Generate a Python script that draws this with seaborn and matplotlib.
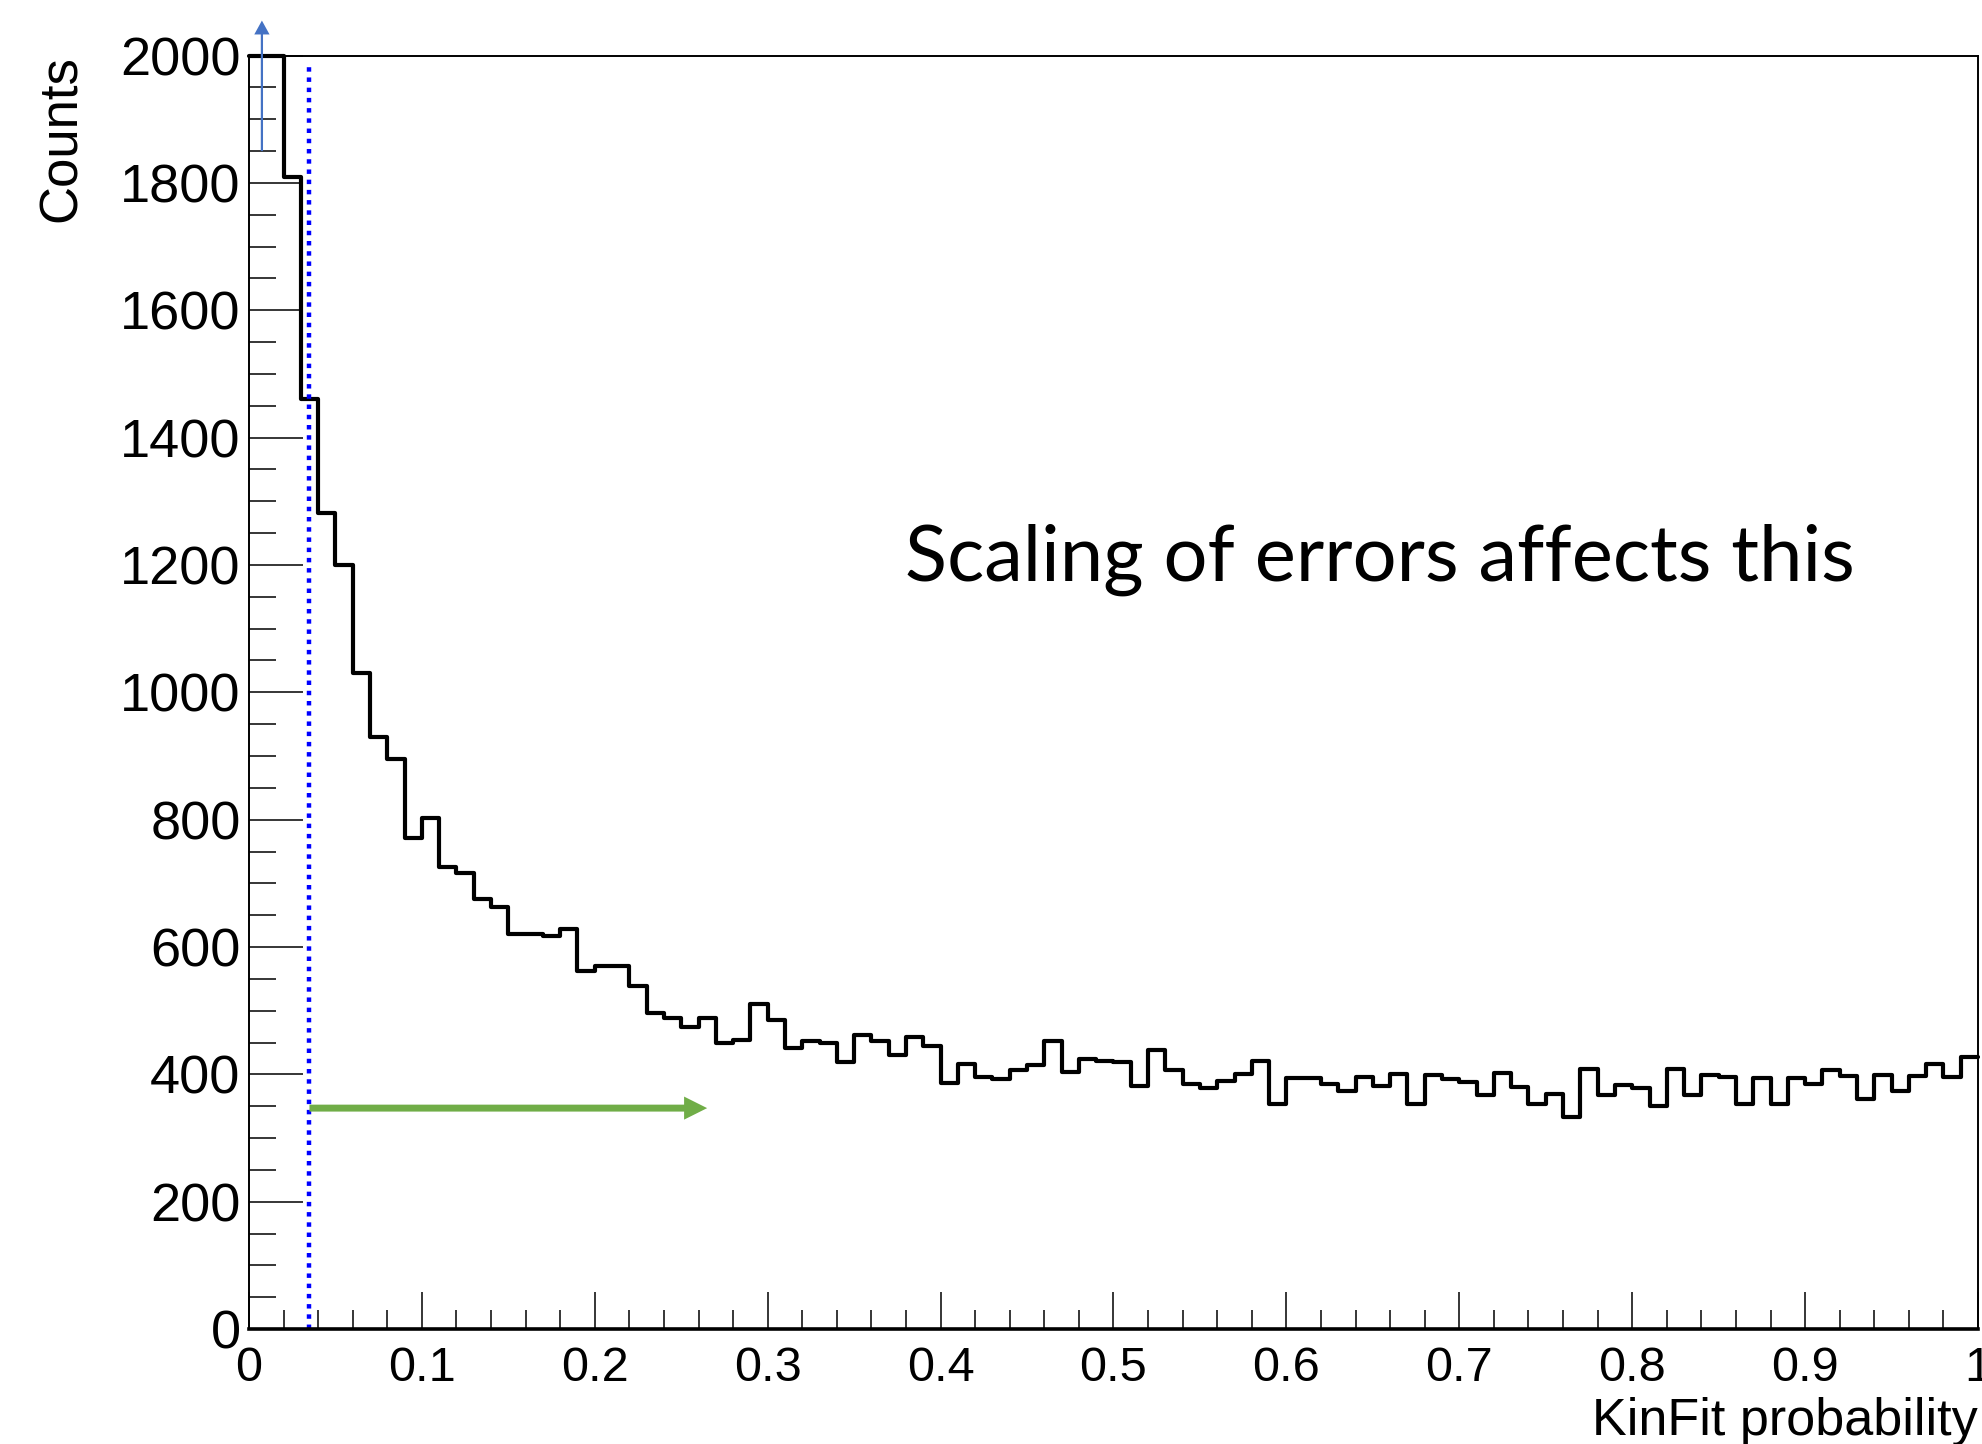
import numpy as np
import pandas as pd
import matplotlib
matplotlib.use("Agg")
import matplotlib.pyplot as plt
from matplotlib.ticker import MultipleLocator
import seaborn as sns

# ---------------- data ----------------
bin_edges = [round(i * 0.01, 2) for i in range(101)]
counts = [2900, 2150, 1810, 1460, 1281, 1200, 1030, 930, 896, 772,
          803, 726, 716, 676, 663, 621, 621, 618, 629, 562,
          570, 570, 539, 496, 489, 475, 489, 449, 454, 510,
          486, 441, 452, 449, 420, 462, 452, 431, 459, 444,
          387, 416, 396, 392, 407, 414, 452, 404, 424, 421,
          420, 382, 438, 407, 385, 378, 390, 400, 421, 353,
          394, 394, 385, 374, 396, 382, 400, 353, 399, 392,
          388, 367, 402, 380, 353, 369, 333, 408, 368, 384,
          378, 351, 408, 368, 399, 396, 354, 394, 353, 394,
          385, 407, 397, 361, 399, 374, 397, 416, 396, 428]
y_max = 2000
y_ticks = [0, 200, 400, 600, 800, 1000, 1200, 1400, 1600, 1800, 2000]
y_tick_labels = ["0", "200", "400", "600", "800", "1000", "1200", "1400", "1600", "1800", "2000"]
x_ticks = [0, 0.1, 0.2, 0.3, 0.4, 0.5, 0.6, 0.7, 0.8, 0.9, 1.0]
x_tick_labels = ["0", "0.1", "0.2", "0.3", "0.4", "0.5", "0.6", "0.7", "0.8", "0.9", "1"]
x_label = "KinFit probability"
y_label = "Counts"
note_text = "Scaling of errors affects this"
note_pos = (0.3794, 1175)
cut_x = 0.035
cut_top = 1985
green_arrow_y = 347
green_arrow_end = 0.265
blue_arrow_x = 0.0075
blue_arrow_from = 1850
blue_arrow_to = 2055

edges_arr = np.array(bin_edges)
centers = 0.5 * (edges_arr[:-1] + edges_arr[1:])
df = pd.DataFrame({"prob": centers, "counts": counts})
# ROOT draws off-scale bins at the frame top
df["shown"] = np.minimum(df["counts"], y_max)

# ---------------- style ----------------
sns.set_theme(style="ticks")
plt.rcParams["font.family"] = ["Liberation Sans", "DejaVu Sans"]

fig = plt.figure(figsize=(19.82, 14.44), dpi=100)
ax = fig.add_axes([0.1256, 0.0796, 0.9980 - 0.1256, 0.9615 - 0.0796])

sns.histplot(data=df, x="prob", weights="shown", bins=bin_edges,
             element="step", fill=False, color="black", linewidth=3.0, ax=ax)
for ln in ax.lines:
    ln.set_clip_on(False)

ax.set_xlim(0, 1)
ax.set_ylim(0, y_max)

# cut line
ax.vlines(cut_x, 0, cut_top, colors="#0000FF", linestyles=[(0, (1.0, 1.3))], linewidth=3.2)

# green arrow
ax.annotate("", xy=(green_arrow_end, green_arrow_y), xytext=(cut_x, green_arrow_y),
            arrowprops=dict(arrowstyle="simple,head_length=0.83,head_width=0.83,tail_width=0.25",
                            mutation_scale=20, fc="#70AD47", ec="none", lw=0,
                            shrinkA=0, shrinkB=0))
# blue arrow (off-scale indicator)
ann = ax.annotate("", xy=(blue_arrow_x, blue_arrow_to), xytext=(blue_arrow_x, blue_arrow_from),
                  annotation_clip=False,
                  arrowprops=dict(arrowstyle="simple,head_length=0.5,head_width=0.55,tail_width=0.08",
                                  mutation_scale=20, fc="#4472C4", ec="none", lw=0,
                                  shrinkA=0, shrinkB=0))
ann.arrow_patch.set_clip_on(False)

ax.text(note_pos[0], note_pos[1], note_text, fontsize=56, family=["Lato", "DejaVu Sans"],
        ha="left", va="baseline", color="black")

# axes styling
for s in ax.spines.values():
    s.set_color("black")
    s.set_linewidth(1.4)
    s.set_visible(True)
ax.spines["bottom"].set_linewidth(2.6)

ax.set_xticks(x_ticks, labels=x_tick_labels)
ax.set_yticks(y_ticks, labels=y_tick_labels)
ax.xaxis.set_minor_locator(MultipleLocator(0.02))
ax.yaxis.set_minor_locator(MultipleLocator(50))
ax.tick_params(axis="both", which="both", direction="in", top=False, right=False,
               color="black", width=1.1, labelcolor="black")
ax.tick_params(axis="x", which="major", length=27, pad=12, labelsize=35)
ax.tick_params(axis="x", which="minor", length=13.7)
ax.tick_params(axis="y", which="major", length=39, pad=6, labelsize=39)
ax.tick_params(axis="y", which="minor", length=19.5)

ax.set_xlabel(x_label, fontsize=37.5, loc="right", color="black")
ax.xaxis.set_label_coords(1.0, -0.053)
ax.xaxis.label.set_va("top")
ax.set_ylabel(y_label, fontsize=38, loc="top", color="black")
ax.yaxis.set_label_coords(-0.094, 1.0)
ax.grid(False)
ax.set_facecolor("white")
fig.patch.set_facecolor("white")

fig.savefig("out.png", dpi=100, facecolor="white")
